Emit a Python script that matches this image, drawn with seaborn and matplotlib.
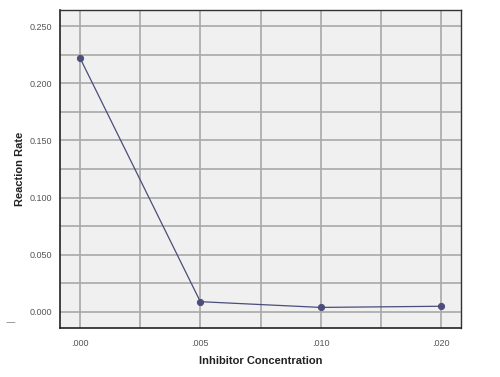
import matplotlib
matplotlib.use("Agg")
import matplotlib.pyplot as plt
import seaborn as sns
import pandas as pd
import numpy as np
from matplotlib.ticker import MultipleLocator, FixedLocator

concentration = [".000", ".005", ".010", ".020"]
reaction_rate = [0.222, 0.009, 0.004, 0.005]
y_ticks = [0.000, 0.050, 0.100, 0.150, 0.200, 0.250]
y_tick_labels = ["0.000", "0.050", "0.100", "0.150", "0.200", "0.250"]

df = pd.DataFrame({"Inhibitor Concentration": concentration, "Reaction Rate": reaction_rate})

sns.set_style("white")
plt.rcParams['font.family'] = ['Liberation Sans', 'DejaVu Sans']

fig = plt.figure(figsize=(5.0, 3.77), dpi=100)
ax = fig.add_axes([60/500, 1-328/377, (461-60)/500, (328-10)/377])
ax.set_facecolor("#f0f0f0")

line_color = "#4b4d7a"
sns.pointplot(data=df, x="Inhibitor Concentration", y="Reaction Rate", ax=ax,
              color=line_color, errorbar=None, markersize=4.5, linewidth=0.9,
              zorder=5)

ax.set_xlim(-1/6, 3 + 1/6)
ax.set_ylim(-0.014, 0.264)
ax.yaxis.set_major_locator(FixedLocator(y_ticks))
ax.set_yticklabels(y_tick_labels)
ax.yaxis.set_minor_locator(MultipleLocator(0.025))
ax.xaxis.set_minor_locator(FixedLocator([0.5, 1.5, 2.5]))

for which in ("major", "minor"):
    ax.grid(True, which=which, axis="both", color="#a8a8a8", linewidth=1.2, zorder=0)
ax.set_axisbelow(True)

ax.tick_params(axis="both", which="major", labelsize=6.5, labelcolor="#555555",
               direction="out", length=4, width=0.8, color="#333333", pad=2)
ax.tick_params(axis="both", which="minor", length=0)
ax.tick_params(axis="x", pad=4)

for side in ("left", "bottom"):
    ax.spines[side].set_color("#222222")
    ax.spines[side].set_linewidth(1.2)
for side in ("top", "right"):
    ax.spines[side].set_color("#333333")
    ax.spines[side].set_linewidth(1.0)

ax.set_xlabel("Inhibitor Concentration", fontsize=8, fontweight="bold", color="#222222", labelpad=6)
ax.set_ylabel("Reaction Rate", fontsize=8, fontweight="bold", color="#222222", labelpad=3)

fig.text(0.02, 1-322/377, "\u2014", fontsize=7, color="#888888", va="center", ha="center",
         family=["DejaVu Sans"])

fig.savefig("out.png", dpi=100, facecolor="white")
